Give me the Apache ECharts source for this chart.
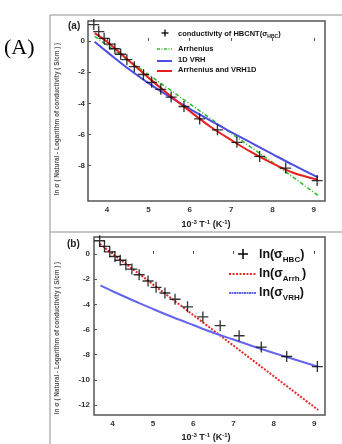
<!DOCTYPE html>
<html>
<head>
<meta charset="utf-8">
<script src="https://cdn.jsdelivr.net/npm/echarts@6/dist/echarts.min.js"></script>
<style>
  html, body { margin: 0; padding: 0; background: #fff; }
  #chart { width: 342px; height: 444px; }
</style>
</head>
<body>
<div id="chart"></div>
<script>
// measured conductivity, x = 10^-3 T^-1 (K^-1), y = ln sigma
const measX = [3.68, 3.80, 3.93, 4.06, 4.19, 4.33, 4.48, 4.66, 4.88, 5.08, 5.30, 5.55, 5.86, 6.24, 6.67, 7.14, 7.69, 8.32, 9.08];
const measY = [1.05, 0.6, 0.17, -0.2, -0.5, -0.85, -1.2, -1.65, -2.15, -2.65, -3.1, -3.6, -4.2, -5.0, -5.7, -6.5, -7.4, -8.15, -8.95];

// panel (a) fits
const fitX = [3.7, 4, 4.5, 5, 5.5, 6, 6.5, 7, 7.5, 8, 8.5, 9.1];
const arrhA = [0.3, -0.27, -1.21, -2.15, -3.09, -4.03, -4.97, -5.91, -6.85, -7.79, -8.73, -9.9];
const vrhA = [-0.05, -0.7, -1.75, -2.7, -3.55, -4.35, -5.1, -5.85, -6.55, -7.25, -7.95, -8.75];
const bothA = [0.5, -0.05, -1.2, -2.35, -3.45, -4.5, -5.5, -6.35, -7.15, -7.85, -8.45, -8.9];

// panel (b) fits
const arrhBX = [3.68, 9.1];
const arrhB = [0.8, -12.4];
const vrhB = [-2.5, -2.96, -3.68, -4.37, -5.03, -5.65, -6.26, -6.8, -7.35, -7.87, -8.37, -8.97];

const xTicks = [4, 5, 6, 7, 8, 9];
const yTicksA = [0, -2, -4, -6, -8];
const yTicksB = [0, -2, -4, -6, -8, -10, -12];

const pairs = (xs, ys) => xs.map((x, i) => [x, ys[i]]);

const plus = "path://M8.8,0h2.4v20h-2.4z M0,8.8h20v2.4h-20z";
const axisCol = "#555";
const labelFont = { color: "#333", fontSize: 8, fontWeight: "bold", fontFamily: "Liberation Sans" };
const frameCol = "#b5b5b5";

const xAxisBase = (grid, min, max) => ({
  type: "value",
  gridIndex: grid,
  min: min,
  max: max,
  axisLine: { show: false },
  splitLine: { show: false },
  axisTick: { inside: true, length: 3, customValues: xTicks, lineStyle: { color: axisCol } },
  axisLabel: Object.assign({ customValues: xTicks, margin: 5 }, labelFont),
});
const yAxisBase = (grid, min, max, ticks, margin) => ({
  type: "value",
  gridIndex: grid,
  min: min,
  max: max,
  axisLine: { show: false },
  splitLine: { show: false },
  axisTick: { inside: true, length: 3, customValues: ticks, lineStyle: { color: axisCol } },
  axisLabel: Object.assign({ customValues: ticks, margin: margin }, labelFont),
});

const subRich = (big, small) => ({
  n: { fontSize: big, fontWeight: "bold", fontFamily: "Liberation Sans", fill: "#111", lineHeight: Math.round(big * 1.35) },
  s: { fontSize: small, fontWeight: "bold", fontFamily: "Liberation Sans", fill: "#111", lineHeight: Math.round(small * 1.1), verticalAlign: "bottom" },
});
const supRich = {
  n: { fontSize: 9, fontWeight: "bold", fontFamily: "Liberation Sans", fill: "#222", lineHeight: 12 },
  p: { fontSize: 6, fontWeight: "bold", fontFamily: "Liberation Sans", fill: "#222", lineHeight: 7, verticalAlign: "top" },
};
const xTitle = "{n|10}{p|-3}{n| T}{p|-1}{n| (K}{p|-1}{n|)}";
const yTitle = "ln σ ( Natural - Logarithm of conductivity ( S/cm ) )";

const legLine = (x1, x2, y, color, dash, w) => ({
  type: "line",
  shape: { x1: x1, y1: y, x2: x2, y2: y },
  style: { stroke: color, lineWidth: w, lineDash: dash },
});
const legPlus = (x, y, s, w) => ({
  type: "group",
  children: [
    { type: "line", shape: { x1: x - s, y1: y, x2: x + s, y2: y }, style: { stroke: "#000", lineWidth: w } },
    { type: "line", shape: { x1: x, y1: y - s, x2: x, y2: y + s }, style: { stroke: "#000", lineWidth: w } },
  ],
});
const txt = (x, y, text, extra) => ({
  type: "text",
  x: x,
  y: y,
  style: Object.assign({ text: text, fill: "#111", align: "left", verticalAlign: "middle" }, extra),
});

const option = {
  animation: false,
  backgroundColor: "#fff",
  grid: [
    { left: 88, top: 21, width: 237, height: 180, show: true, borderColor: axisCol, borderWidth: 1.5 },
    { left: 94, top: 237, width: 231, height: 178, show: true, borderColor: axisCol, borderWidth: 1.5 },
  ],
  xAxis: [xAxisBase(0, 3.54, 9.27), xAxisBase(1, 3.54, 9.27)],
  yAxis: [yAxisBase(0, -10.26, 1.28, yTicksA, 3), yAxisBase(1, -12.8, 1.35, yTicksB, 4)],
  series: [
    { type: "line", xAxisIndex: 0, yAxisIndex: 0, data: pairs(fitX, arrhA), showSymbol: false, lineStyle: { color: "#2fbf2f", width: 1.6, type: [4, 2, 1, 2] } },
    { type: "line", xAxisIndex: 0, yAxisIndex: 0, data: pairs(fitX, vrhA), showSymbol: false, smooth: 0.3, lineStyle: { color: "#4d4de6", width: 2 } },
    { type: "line", xAxisIndex: 0, yAxisIndex: 0, data: pairs(fitX, bothA), showSymbol: false, smooth: 0.3, lineStyle: { color: "#e62020", width: 2 } },
    { type: "scatter", xAxisIndex: 0, yAxisIndex: 0, data: pairs(measX, measY), symbol: plus, symbolSize: 11, itemStyle: { color: "#000" }, z: 5 },
    { type: "line", xAxisIndex: 1, yAxisIndex: 1, data: pairs(arrhBX, arrhB), showSymbol: false, lineStyle: { color: "#e62828", width: 2, type: [2, 1.5] } },
    { type: "line", xAxisIndex: 1, yAxisIndex: 1, data: pairs(fitX, vrhB), showSymbol: false, smooth: 0.3, lineStyle: { color: "#6464ee", width: 2 } },
    { type: "scatter", xAxisIndex: 1, yAxisIndex: 1, data: pairs(measX, measY), symbol: plus, symbolSize: 11, itemStyle: { color: "#000" }, z: 5 },
  ],
  graphic: [
    // outer frame
    { type: "line", shape: { x1: 50, y1: 15, x2: 50, y2: 444 }, style: { stroke: frameCol, lineWidth: 1.5 } },
    { type: "line", shape: { x1: 50, y1: 15, x2: 342, y2: 15 }, style: { stroke: frameCol, lineWidth: 1.5 } },
    { type: "line", shape: { x1: 50, y1: 232, x2: 342, y2: 232 }, style: { stroke: frameCol, lineWidth: 1.5 } },
    txt(4, 48, "(A)", { font: "22px 'Liberation Serif'", fill: "#000" }),
    txt(68, 26, "(a)", { font: "bold 10px 'Liberation Sans'", fill: "#222" }),
    txt(67, 244, "(b)", { font: "bold 10px 'Liberation Sans'", fill: "#222" }),
    { type: "text", x: 57, y: 119, rotation: Math.PI / 2, style: { text: yTitle, font: "bold 6.4px 'Liberation Sans'", fill: "#555", align: "center", verticalAlign: "middle" } },
    { type: "text", x: 57, y: 338, rotation: Math.PI / 2, style: { text: yTitle, font: "bold 6.4px 'Liberation Sans'", fill: "#555", align: "center", verticalAlign: "middle" } },
    txt(206, 225, xTitle, { align: "center", rich: supRich }),
    txt(206, 438, xTitle, { align: "center", rich: supRich }),
    // legend (a)
    legPlus(165, 33, 3.5, 1.3),
    legLine(157, 172, 49, "#2fbf2f", [3, 1.5, 1, 1.5], 1.5),
    legLine(157, 172, 61, "#4d4de6", null, 2),
    legLine(157, 172, 71, "#e62020", null, 2),
    txt(178, 34, "{n|conductivity of HBCNT(σ}{s|HBC}{n|)}", { rich: subRich(7.5, 5) }),
    txt(178, 49, "Arrhenius", { font: "bold 7.5px 'Liberation Sans'" }),
    txt(178, 60, "1D VRH", { font: "bold 7.5px 'Liberation Sans'" }),
    txt(178, 70, "Arrhenius and VRH1D", { font: "bold 7.5px 'Liberation Sans'" }),
    // legend (b)
    legPlus(243, 254, 5, 1.5),
    legLine(229, 256, 274, "#e62828", [2, 1.5], 2),
    legLine(229, 256, 293, "#6464ee", [2, 0.5], 2),
    txt(259, 255, "{n|ln(σ}{s|HBC}{n|)}", { rich: subRich(12.5, 8) }),
    txt(259, 274, "{n|ln(σ}{s|Arrh.}{n|)}", { rich: subRich(12.5, 8) }),
    txt(259, 293, "{n|ln(σ}{s|VRH}{n|)}", { rich: subRich(12.5, 8) }),
  ],
};

const chart = echarts.init(document.getElementById("chart"), null, { renderer: "canvas" });
chart.setOption(option);
</script>
</body>
</html>
